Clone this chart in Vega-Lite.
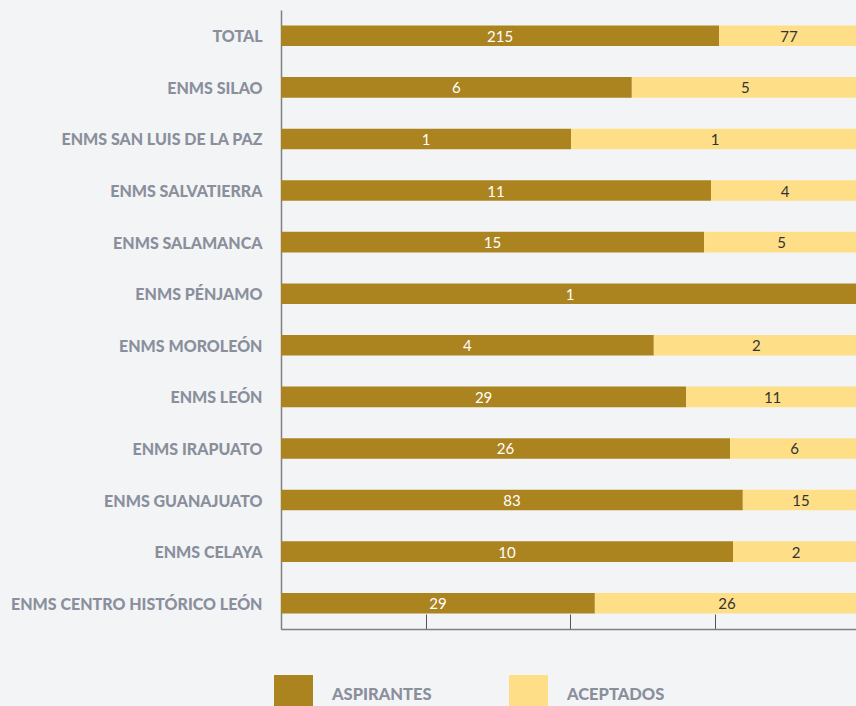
{
  "$schema": "https://vega.github.io/schema/vega-lite/v6.json",
  "width": 578,
  "height": 619,
  "autosize": {"type": "none"},
  "padding": {"left": 281, "top": 10, "right": 0, "bottom": 77},
  "background": "#F3F4F6",
  "config": {
    "view": {"stroke": null},
    "font": "Lato"
  },
  "data": {
    "values": [
      {"escuela": "TOTAL", "serie": "ASPIRANTES", "orden": 1, "pct": 75.8, "n": 215},
      {"escuela": "TOTAL", "serie": "ACEPTADOS", "orden": 2, "pct": 24.2, "n": 77},
      {"escuela": "ENMS SILAO", "serie": "ASPIRANTES", "orden": 1, "pct": 60.7, "n": 6},
      {"escuela": "ENMS SILAO", "serie": "ACEPTADOS", "orden": 2, "pct": 39.3, "n": 5},
      {"escuela": "ENMS SAN LUIS DE LA PAZ", "serie": "ASPIRANTES", "orden": 1, "pct": 50.2, "n": 1},
      {"escuela": "ENMS SAN LUIS DE LA PAZ", "serie": "ACEPTADOS", "orden": 2, "pct": 49.8, "n": 1},
      {"escuela": "ENMS SALVATIERRA", "serie": "ASPIRANTES", "orden": 1, "pct": 74.4, "n": 11},
      {"escuela": "ENMS SALVATIERRA", "serie": "ACEPTADOS", "orden": 2, "pct": 25.6, "n": 4},
      {"escuela": "ENMS SALAMANCA", "serie": "ASPIRANTES", "orden": 1, "pct": 73.2, "n": 15},
      {"escuela": "ENMS SALAMANCA", "serie": "ACEPTADOS", "orden": 2, "pct": 26.8, "n": 5},
      {"escuela": "ENMS PÉNJAMO", "serie": "ASPIRANTES", "orden": 1, "pct": 100, "n": 1},
      {"escuela": "ENMS MOROLEÓN", "serie": "ASPIRANTES", "orden": 1, "pct": 64.5, "n": 4},
      {"escuela": "ENMS MOROLEÓN", "serie": "ACEPTADOS", "orden": 2, "pct": 35.5, "n": 2},
      {"escuela": "ENMS LEÓN", "serie": "ASPIRANTES", "orden": 1, "pct": 70.1, "n": 29},
      {"escuela": "ENMS LEÓN", "serie": "ACEPTADOS", "orden": 2, "pct": 29.9, "n": 11},
      {"escuela": "ENMS IRAPUATO", "serie": "ASPIRANTES", "orden": 1, "pct": 77.7, "n": 26},
      {"escuela": "ENMS IRAPUATO", "serie": "ACEPTADOS", "orden": 2, "pct": 22.3, "n": 6},
      {"escuela": "ENMS GUANAJUATO", "serie": "ASPIRANTES", "orden": 1, "pct": 79.9, "n": 83},
      {"escuela": "ENMS GUANAJUATO", "serie": "ACEPTADOS", "orden": 2, "pct": 20.1, "n": 15},
      {"escuela": "ENMS CELAYA", "serie": "ASPIRANTES", "orden": 1, "pct": 78.2, "n": 10},
      {"escuela": "ENMS CELAYA", "serie": "ACEPTADOS", "orden": 2, "pct": 21.8, "n": 2},
      {"escuela": "ENMS CENTRO HISTÓRICO LEÓN", "serie": "ASPIRANTES", "orden": 1, "pct": 54.3, "n": 29},
      {"escuela": "ENMS CENTRO HISTÓRICO LEÓN", "serie": "ACEPTADOS", "orden": 2, "pct": 45.7, "n": 26}
    ]
  },
  "encoding": {
    "y": {
      "field": "escuela",
      "type": "nominal",
      "sort": ["TOTAL", "ENMS SILAO", "ENMS SAN LUIS DE LA PAZ", "ENMS SALVATIERRA", "ENMS SALAMANCA", "ENMS PÉNJAMO", "ENMS MOROLEÓN", "ENMS LEÓN", "ENMS IRAPUATO", "ENMS GUANAJUATO", "ENMS CELAYA", "ENMS CENTRO HISTÓRICO LEÓN"],
      "scale": {"paddingInner": 0.6, "paddingOuter": 0.3},
      "axis": {
        "title": null,
        "ticks": false,
        "domain": true,
        "domainColor": "#808080",
        "domainWidth": 1.5,
        "labelPadding": 19,
        "labelLimit": 400,
        "labelOffset": 1.5,
        "labelFont": "Lato",
        "labelFontWeight": 900,
        "labelFontSize": 16,
        "labelColor": "#8A8F9C"
      }
    }
  },
  "layer": [
    {
      "mark": {"type": "bar"},
      "encoding": {
        "x": {
          "field": "pct",
          "type": "quantitative",
          "stack": "zero",
          "scale": {"domain": [0, 100], "nice": false},
          "axis": {
            "title": null,
            "labels": false,
            "grid": false,
            "values": [0, 25, 50, 75, 100],
            "tickSize": -15,
            "tickColor": "#555555",
            "tickWidth": 1,
            "domainColor": "#808080",
            "domainWidth": 1.5
          }
        },
        "order": {"field": "orden", "type": "quantitative"},
        "color": {
          "field": "serie",
          "type": "nominal",
          "scale": {"domain": ["ASPIRANTES", "ACEPTADOS"], "range": ["#AB841F", "#FEDE87"]},
          "legend": {
            "title": null,
            "orient": "none",
            "legendX": -7,
            "legendY": 665,
            "direction": "horizontal",
            "symbolType": "square",
            "symbolSize": 1521,
            "symbolStrokeWidth": 0,
            "symbolOpacity": 1,
            "labelOffset": 19,
            "columnPadding": 77,
            "labelFont": "Lato",
            "labelFontWeight": 900,
            "labelFontSize": 16.5,
            "labelColor": "#8A8F9C",
            "padding": 0
          }
        }
      }
    },
    {
      "mark": {"type": "text", "fontSize": 15, "font": "Lato", "fontWeight": 400, "baseline": "middle", "dy": 1},
      "encoding": {
        "x": {"field": "pct", "type": "quantitative", "stack": "zero", "bandPosition": 0.5},
        "order": {"field": "orden", "type": "quantitative"},
        "text": {"field": "n", "type": "quantitative"},
        "color": {
          "condition": {"test": "datum.serie === 'ASPIRANTES'", "value": "#FFFFFF"},
          "value": "#333333"
        }
      }
    }
  ]
}
